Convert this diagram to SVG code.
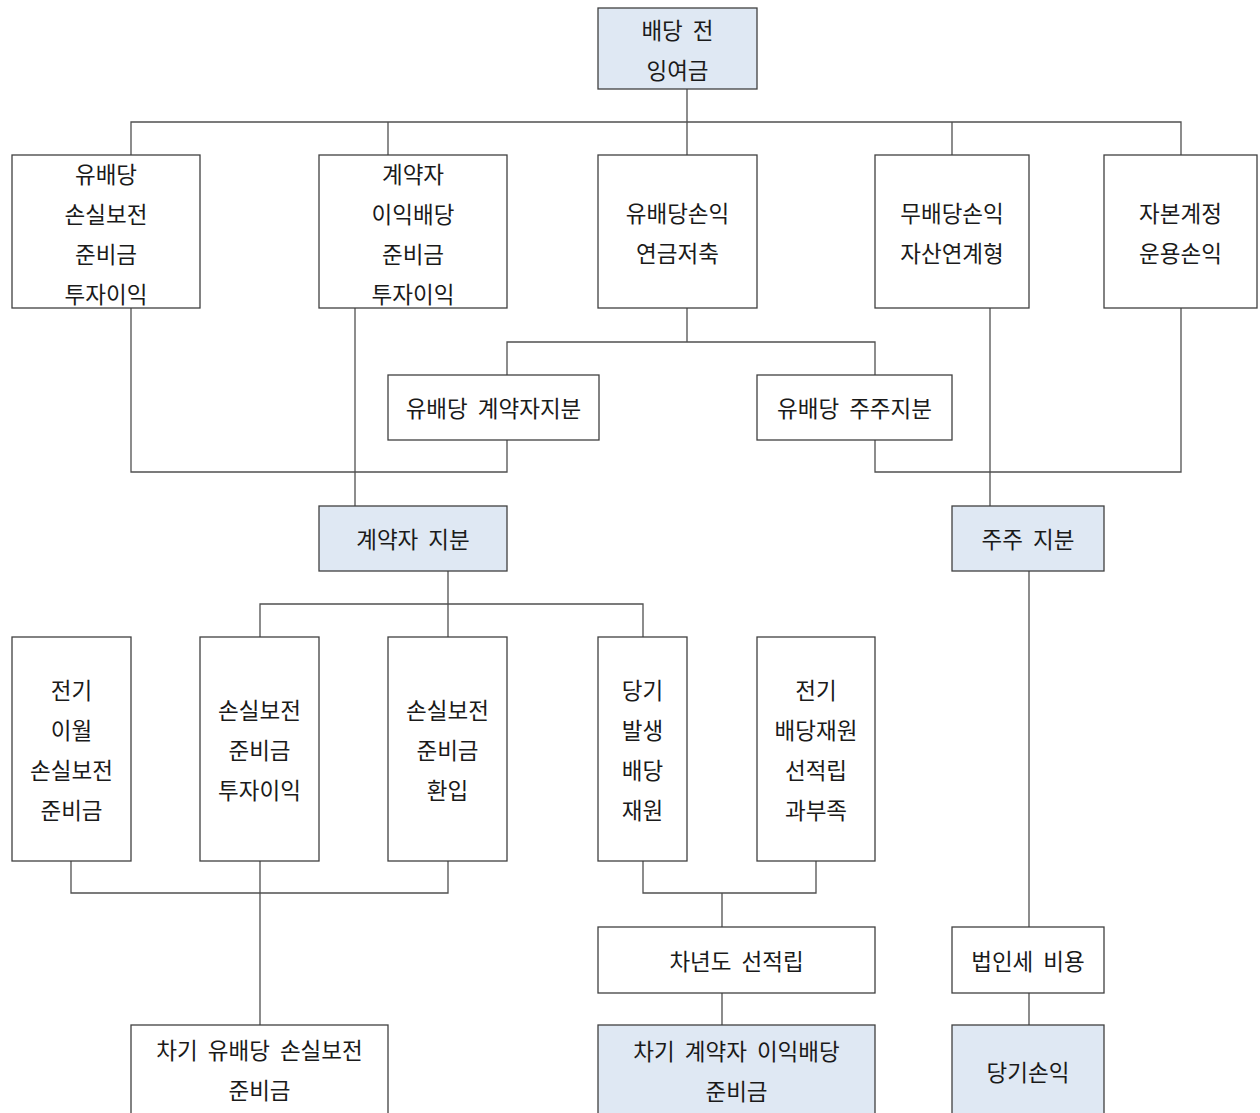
<svg xmlns="http://www.w3.org/2000/svg" width="1260" height="1113" viewBox="0 0 1260 1113">
<style>
.b{fill:#ffffff;stroke:#404040;stroke-width:1.3}
.h{fill:#dfe8f3;stroke:#404040;stroke-width:1.3}
.c{fill:none;stroke:#505050;stroke-width:1.3}
text{font-family:"Malgun Gothic","Noto Sans CJK KR",sans-serif;font-size:22.5px;word-spacing:5px;fill:#1a1a1a;text-anchor:middle;dominant-baseline:central}
</style>
<rect width="1260" height="1113" fill="#ffffff"/>
<g id="connectors">
<path class="c" d="M687,89V122M131,155V122H1181V155M388,122V155M687,122V155M952,122V155"/>
<path class="c" d="M687,308V342M507,375V342H875V375"/>
<path class="c" d="M131,308V472H507V440"/>
<path class="c" d="M355,308V506"/>
<path class="c" d="M875,440V472H1181V308"/>
<path class="c" d="M990,308V506"/>
<path class="c" d="M448,571V637M260,637V604H643V637"/>
<path class="c" d="M1029,571V927M1029,993V1025"/>
<path class="c" d="M71,861V893H448V861M260,861V1025"/>
<path class="c" d="M643,861V893H816V861M722,893V927M722,993V1025"/>
</g>
<g id="n_top"><rect class="h" x="598" y="8" width="159" height="81"/><text x="677.5" y="29">배당 전</text><text x="677.5" y="69">잉여금</text></g>
<g id="n_a"><rect class="b" x="12" y="155" width="188" height="153"/><text x="106" y="173">유배당</text><text x="106" y="213">손실보전</text><text x="106" y="253">준비금</text><text x="106" y="293">투자이익</text></g>
<g id="n_b"><rect class="b" x="319" y="155" width="188" height="153"/><text x="413" y="173">계약자</text><text x="413" y="213">이익배당</text><text x="413" y="253">준비금</text><text x="413" y="293">투자이익</text></g>
<g id="n_c"><rect class="b" x="598" y="155" width="159" height="153"/><text x="677.5" y="212">유배당손익</text><text x="677.5" y="252">연금저축</text></g>
<g id="n_d"><rect class="b" x="875" y="155" width="154" height="153"/><text x="952" y="212">무배당손익</text><text x="952" y="252">자산연계형</text></g>
<g id="n_e"><rect class="b" x="1104" y="155" width="153" height="153"/><text x="1180.5" y="212">자본계정</text><text x="1180.5" y="252">운용손익</text></g>
<g id="n_pc"><rect class="b" x="388" y="375" width="211" height="65"/><text x="493.5" y="407">유배당 계약자지분</text></g>
<g id="n_ps"><rect class="b" x="757" y="375" width="195" height="65"/><text x="854.5" y="407">유배당 주주지분</text></g>
<g id="n_cs"><rect class="h" x="319" y="506" width="188" height="65"/><text x="413" y="538">계약자 지분</text></g>
<g id="n_ss"><rect class="h" x="952" y="506" width="152" height="65"/><text x="1028" y="538">주주 지분</text></g>
<g id="n_r1"><rect class="b" x="12" y="637" width="119" height="224"/><text x="71.5" y="689">전기</text><text x="71.5" y="729">이월</text><text x="71.5" y="769">손실보전</text><text x="71.5" y="809">준비금</text></g>
<g id="n_r2"><rect class="b" x="200" y="637" width="119" height="224"/><text x="259.5" y="709">손실보전</text><text x="259.5" y="749">준비금</text><text x="259.5" y="789">투자이익</text></g>
<g id="n_r3"><rect class="b" x="388" y="637" width="119" height="224"/><text x="447.5" y="709">손실보전</text><text x="447.5" y="749">준비금</text><text x="447.5" y="789">환입</text></g>
<g id="n_r4"><rect class="b" x="598" y="637" width="89" height="224"/><text x="642.5" y="689">당기</text><text x="642.5" y="729">발생</text><text x="642.5" y="769">배당</text><text x="642.5" y="809">재원</text></g>
<g id="n_r5"><rect class="b" x="757" y="637" width="118" height="224"/><text x="816" y="689">전기</text><text x="816" y="729">배당재원</text><text x="816" y="769">선적립</text><text x="816" y="809">과부족</text></g>
<g id="n_next"><rect class="b" x="598" y="927" width="277" height="66"/><text x="736.5" y="960">차년도 선적립</text></g>
<g id="n_tax"><rect class="b" x="952" y="927" width="152" height="66"/><text x="1028" y="960">법인세 비용</text></g>
<g id="n_lr"><rect class="b" x="131" y="1025" width="257" height="100"/><text x="259.5" y="1049">차기 유배당 손실보전</text><text x="259.5" y="1089">준비금</text></g>
<g id="n_cr"><rect class="h" x="598" y="1025" width="277" height="100"/><text x="736.5" y="1050">차기 계약자 이익배당</text><text x="736.5" y="1090">준비금</text></g>
<g id="n_pl"><rect class="h" x="952" y="1025" width="152" height="100"/><text x="1028" y="1071">당기손익</text></g>
</svg>
